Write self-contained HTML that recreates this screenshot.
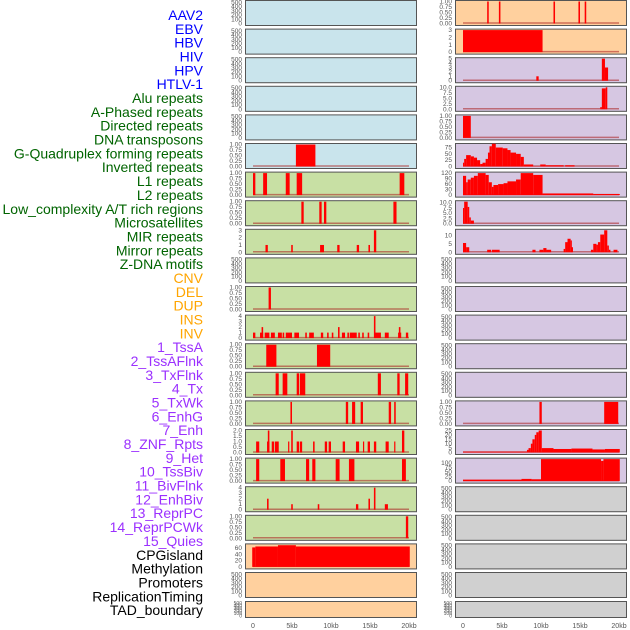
<!DOCTYPE html>
<html><head><meta charset="utf-8"><style>
html,body{margin:0;padding:0;background:#fff;}
svg{display:block;font-family:"Liberation Sans",sans-serif;}
</style></head><body>
<svg id="chart" width="630" height="630" viewBox="0 0 630 630" xmlns="http://www.w3.org/2000/svg">
<g id="labels"></g>
<g id="panels"></g>
<g id="xaxes"></g>
</svg>
<script>
// ---- data ----
const trackNames = ["AAV2","EBV","HBV","HIV","HPV","HTLV-1","Alu repeats","A-Phased repeats","Directed repeats","DNA transposons","G-Quadruplex forming repeats","Inverted repeats","L1 repeats","L2 repeats","Low_complexity A/T rich regions","Microsatellites","MIR repeats","Mirror repeats","Z-DNA motifs","CNV","DEL","DUP","INS","INV","1_TssA","2_TssAFlnk","3_TxFlnk","4_Tx","5_TxWk","6_EnhG","7_Enh","8_ZNF_Rpts","9_Het","10_TssBiv","11_BivFlnk","12_EnhBiv","13_ReprPC","14_ReprPCWk","15_Quies","CPGisland","Methylation","Promoters","ReplicationTiming","TAD_boundary"];
const trackGroups = [0,0,0,0,0,0,1,1,1,1,1,1,1,1,1,1,1,1,1,2,2,2,2,2,3,3,3,3,3,3,3,3,3,3,3,3,3,3,3,4,4,4,4,4];
const groupColors = ["#0000ff","#006400","#ffa500","#9b30ff","#000000"];
const xTickValues = [0,5,10,15,20];
const xTickLabels = ["0","5kb","10kb","15kb","20kb"];
const emptyTicks = [0,100,200,300,400,500];
const leftBg = ["b","b","b","b","b","b","g","g","g","g","g","g","g","g","g","g","g","g","g","p","p","p"];
const rightBg = ["p","p","l","l","l","l","l","l","l","l","l","l","l","l","l","l","l","y","y","y","y","y"];
// per-panel segments: [startKb, endKb, value]
const L5=[[5.5,8.0,1]];
const L6=[[0,0.3,1],[1.3,1.8,1],[4.2,4.7,1],[5.6,6.3,1],[18.8,19.4,1]];
const L7=[[6.2,6.5,1],[8.5,8.8,1],[9.1,9.4,1],[18.0,18.4,1]];
const L8=[[1.6,1.9,1],[4.9,5.1,1],[8.6,9.1,1],[10.8,11.1,1],[13.3,13.6,1],[14.8,15.0,1],[15.5,15.8,3]];
const L10=[[2.0,2.3,1]];
const L11=[[0,0.3,1],[0.9,1.3,1],[1.1,1.3,2],[1.5,2.1,1],[2.3,2.8,1],[3.2,3.7,1],[3.8,4.0,1],[4.2,5.0,1],[5.3,5.9,1],[6.7,6.9,1],[7.2,7.8,1],[8.7,9.0,1],[9.5,9.7,1],[10.1,10.3,1],[10.9,11.1,2],[11.4,11.8,1],[12.1,12.3,1],[12.4,13.3,1],[13.5,13.7,1],[14.0,14.2,1],[14.7,14.9,1],[15.5,15.7,4],[15.6,16.4,1],[16.9,17.4,1],[18.6,19.0,1],[18.7,18.9,2],[19.6,19.9,1]];
const L12=[[1.7,3.0,1],[8.2,9.9,1]];
const L13=[[2.9,3.3,1],[3.8,4.4,1],[5.6,5.9,1],[6.0,6.7,1],[16.0,16.4,1],[18.5,18.8,1],[19.5,19.9,1]];
const L14=[[4.8,5.0,1],[11.9,12.2,1],[12.7,13.1,1],[13.8,14.1,1],[17.4,17.7,1],[18.1,18.3,1]];
const L15=[[0.4,0.8,1],[1.8,2.1,1],[1.9,2.1,2],[2.4,2.7,1],[2.8,3.3,1],[4.5,4.6,1],[4.9,5.1,2],[5.6,5.9,1],[6.0,6.3,1],[7.7,7.9,1],[9.2,9.5,1],[9.7,10.0,1],[11.5,11.8,1],[13.2,13.6,1],[14.1,14.2,1],[14.7,15.0,1],[15.5,15.8,1],[17.0,17.4,1],[18.1,18.2,1],[19.1,19.4,2]];
const L16=[[0.4,0.8,1],[3.5,4.1,1],[6.8,7.2,1],[7.6,8.0,1],[10.6,11.1,1],[12.3,13.0,1],[19.1,19.6,1]];
const L17=[[1.8,2.0,2],[4.9,5.1,1],[8.3,8.5,1],[13.2,13.5,1],[14.8,15.0,2],[15.5,15.7,4],[16.9,17.3,1]];
const L18=[[19.6,19.9,1]];
const L19=[[-0.1,0.3,62],[0.3,3.2,65],[3.2,5.5,69],[5.5,20.1,65]];
const R0=[[3.1,3.3,1],[4.6,4.8,1],[11.6,11.8,1],[14.8,15.0,1],[15.6,15.8,1]];
const R1=[[0,10.2,3]];
const R2=[[9.4,9.7,1],[17.8,18.2,5],[18.2,18.6,3]];
const R3=[[17.6,17.8,1],[17.8,18.3,9.5],[18.3,18.5,10]];
const R4=[[0,1.0,1]];
const R5=[[0,0.15,15],[0.15,0.4,30],[0.4,1.0,45],[1.0,1.4,40],[1.4,1.8,35],[1.8,2.2,25],[2.2,2.5,10],[2.5,2.9,15],[2.9,3.2,30],[3.2,3.4,55],[3.4,3.7,80],[3.7,4.2,90],[4.2,5.1,75],[5.1,5.7,72],[5.7,6.1,65],[6.1,6.8,55],[6.8,7.4,50],[7.4,7.8,38],[7.8,9.0,8],[9.0,9.9,1],[9.9,10.6,8],[10.6,12.9,5],[13.1,14.3,5]];
const R6=[[0,0.4,105],[0.4,0.6,70],[0.6,1.0,85],[1.0,1.4,95],[1.4,1.9,105],[1.9,2.9,120],[2.9,3.3,110],[3.3,3.7,70],[3.7,3.9,45],[3.9,4.5,55],[4.5,5.2,60],[5.2,5.7,65],[5.7,6.8,75],[6.8,7.4,85],[7.4,9.0,120],[9.0,10.2,110],[10.2,16.7,9],[16.7,18.2,6],[18.2,20.1,6]];
const R7=[[0,0.15,7.5],[0.15,0.6,10.5],[0.6,0.8,8],[0.8,1.0,3],[1.0,1.4,1.5]];
const R8=[[0,0.4,5.5],[0.4,0.8,3],[3.1,3.6,1.5],[3.7,4.7,1.5],[8.9,9.3,1.5],[9.8,10.3,1.5],[10.3,10.7,2.5],[10.7,11.3,1.5],[12.9,13.1,2],[13.1,13.4,6],[13.4,13.8,8],[13.8,13.9,7],[13.9,14.1,3],[16.4,16.7,1.5],[16.7,17.1,5],[17.1,17.3,4.5],[17.3,17.6,6],[17.6,18.1,10.5],[18.1,18.5,13],[18.5,18.7,4],[18.7,18.9,1.5],[19.3,19.8,1.5]];
const R14=[[9.8,10.1,1],[18.1,19.9,1]];
const R15=[[0,8.2,1],[8.2,8.4,3],[8.4,8.7,5],[8.7,8.9,10],[8.9,9.2,15],[9.2,9.4,20],[9.4,9.7,23],[9.7,10.1,25],[10.1,11.6,5],[11.6,13.9,4],[13.9,16.6,4.5],[16.6,18.2,3.5],[18.2,20.1,4]];
const R16=[[0,7.5,8],[7.5,8.8,12],[8.8,10.0,10],[10.0,17.7,120],[17.7,18.0,110],[18.0,20.1,120]];
// tick sets
const T1=[0,0.25,0.5,0.75,1.0];
const T2=[0,0.5,1.0,1.5,2.0];
const T3=[0,1,2,3];
const T4=[0,1,2,3,4];
const T5=[0,1,2,3,4,5];
const T10=[0,2.5,5.0,7.5,10.0];
const T13=[0,5,10];
const T25=[0,5,10,15,20,25];
const T60=[0,20,40,60];
const T75=[0,25,50,75];
const T100=[0,25,50,75,100];
const T120=[0,30,60,90,120];
const leftData={5:[L5,T1,1],6:[L6,T1,1],7:[L7,T1,1],8:[L8,T3,3],10:[L10,T1,1],11:[L11,T4,4],12:[L12,T1,1],13:[L13,T1,1],14:[L14,T1,1],15:[L15,T2,2],16:[L16,T1,1],17:[L17,T4,4],18:[L18,T1,1],19:[L19,T60,70]};
const rightData={0:[R0,T1,1],1:[R1,T3,3],2:[R2,T5,5],3:[R3,T10,10],4:[R4,T1,1],5:[R5,T75,87],6:[R6,T120,120],7:[R7,T10,10.5],8:[R8,T13,13],14:[R14,T1,1],15:[R15,T25,25],16:[R16,T100,120]};

// ---- drawing ----
const NS="http://www.w3.org/2000/svg";
function mk(tag,attrs,parent){const e=document.createElementNS(NS,tag);for(const k in attrs)e.setAttribute(k,attrs[k]);parent.appendChild(e);return e;}
const bgCol={b:"#c9e4ec",g:"#c8e0a4",p:"#ffd09e",l:"#d6c7e2",y:"#d0d0d0"};
const cols=[{x:245,bg:leftBg,data:leftData,name:"left"},{x:455,bg:rightBg,data:rightData,name:"right"}];
const panelsG=document.getElementById('panels');
const labelsG=document.getElementById('labels');
const xaxG=document.getElementById('xaxes');

function fmt(v,ticks){
  const dec=ticks.some(t=>Math.abs(t-Math.round(t))>1e-9)?(ticks.some(t=>Math.abs(t*10-Math.round(t*10))>1e-9)?2:1):0;
  if(ticks===T1) return v.toFixed(2);
  return v.toFixed(dec);
}

trackNames.forEach((n,i)=>{
  const t=mk('text',{x:203,y:20+i*13.84,'text-anchor':'end','font-size':14,fill:groupColors[trackGroups[i]]},labelsG);
  t.textContent=n;
  
  
});

cols.forEach(c=>{
  const W=171, x0kb=c.x+8, pxPerKb=156/20;
  const xs=kb=>x0kb+kb*pxPerKb;
  for(let r=0;r<22;r++){
    const top=r===21?601:r*28.6, h=r===21?16:25;
    const g=mk('g',{},panelsG);
    
    
    mk('rect',{x:c.x+1,y:top+1,width:W,height:h,fill:'#bbb'},g);
    mk('rect',{x:c.x+0.5,y:top+0.5,width:W,height:h,fill:bgCol[c.bg[r]],stroke:'#555','stroke-width':1},g);
    const d=c.data[r];
    const segs=d?d[0]:null, ticks=d?d[1]:emptyTicks, ymax=d?d[2]:520;
    const y0=top+h-1.5, y1=top+1.5;
    const ys=v=>y0-(v/ymax)*(y0-y1);
    ticks.forEach(t=>{
      const tl=mk('text',{x:c.x-3,y:ys(t)+2,'text-anchor':'end','font-size':r===21?5:6.5,fill:'#555'},g);
      tl.textContent=d?fmt(t,ticks):String(t);
      
      
    });
    if(segs){
      mk('line',{x1:xs(0),x2:xs(20),y1:y0-0.5,y2:y0-0.5,stroke:'rgba(170,30,30,0.55)','stroke-width':1.5},g);
      segs.forEach(s=>{
        const bx=xs(s[0]), bw=Math.max(1.2,xs(s[1])-xs(s[0])), by=ys(s[2]);
        const b=mk('rect',{x:bx,y:by,width:bw,height:y0-by,fill:'#ff0000'},g);
        
        
      });
    }
  }
  xTickValues.forEach((v,i)=>{
    const t=mk('text',{x:xs(v),y:628,'text-anchor':'middle','font-size':7,fill:'#555'},xaxG);
    t.textContent=xTickLabels[i];
    
    
  });
});
</script>
</body></html>
